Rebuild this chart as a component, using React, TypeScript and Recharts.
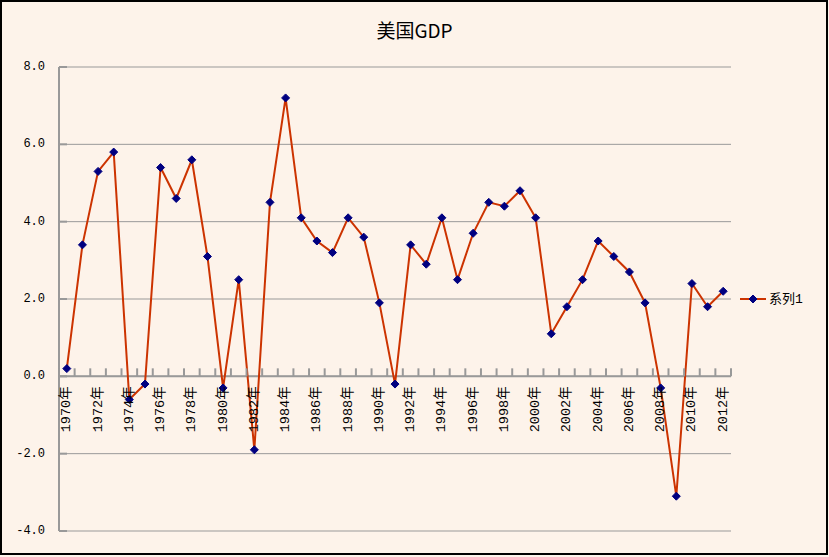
import {
  LineChart, Line, XAxis, YAxis, CartesianGrid, ReferenceLine, Legend,
} from 'recharts';

const years = [
  '1970年', '1971年', '1972年', '1973年', '1974年', '1975年', '1976年', '1977年', '1978年', '1979年',
  '1980年', '1981年', '1982年', '1983年', '1984年', '1985年', '1986年', '1987年', '1988年', '1989年',
  '1990年', '1991年', '1992年', '1993年', '1994年', '1995年', '1996年', '1997年', '1998年', '1999年',
  '2000年', '2001年', '2002年', '2003年', '2004年', '2005年', '2006年', '2007年', '2008年', '2009年',
  '2010年', '2011年', '2012年',
];

const gdp = [
  0.2, 3.4, 5.3, 5.8, -0.6, -0.2, 5.4, 4.6, 5.6, 3.1,
  -0.3, 2.5, -1.9, 4.5, 7.2, 4.1, 3.5, 3.2, 4.1, 3.6,
  1.9, -0.2, 3.4, 2.9, 4.1, 2.5, 3.7, 4.5, 4.4, 4.8,
  4.1, 1.1, 1.8, 2.5, 3.5, 3.1, 2.7, 1.9, -0.3, -3.1,
  2.4, 1.8, 2.2,
];

const yTicks = [-4, -2, 0, 2, 4, 6, 8];

const data = years.map((year, i) => ({ year, gdp: gdp[i] }));

// layout
const W = 829;
const H = 557;
const PLOT_LEFT = 59;
const PLOT_RIGHT = 731;
const PLOT_TOP = 67;
const PLOT_BOTTOM = 531;
const PLOT_W = PLOT_RIGHT - PLOT_LEFT;
const PLOT_H = PLOT_BOTTOM - PLOT_TOP;
const Y_MIN = -4;
const Y_MAX = 8;
const ZERO_Y = PLOT_TOP + (PLOT_H * Y_MAX) / (Y_MAX - Y_MIN);
const BAND = PLOT_W / years.length;

const AXIS = '#999999';
const LINE = '#CC3300';
const MARK = '#000080';
const BG = '#FDF3EA';
const FONT = '"Liberation Mono", "Noto Sans CJK SC", monospace';

const Diamond = ({ cx, cy, size = 4 }: any) => {
  if (cx == null || cy == null) return null;
  return (
    <polygon
      points={`${cx},${cy - size} ${cx + size},${cy} ${cx},${cy + size} ${cx - size},${cy}`}
      fill={MARK}
      stroke={MARK}
      strokeWidth={1}
    />
  );
};

const XTick = ({ x, index, payload }: any) => {
  const left = x - BAND / 2;
  const ly = ZERO_Y + 10;
  return (
    <g>
      <line x1={left} x2={left} y1={ZERO_Y} y2={ZERO_Y - 8} stroke={AXIS} strokeWidth={2} />
      {index === years.length - 1 && (
        <line x1={x + BAND / 2} x2={x + BAND / 2} y1={ZERO_Y} y2={ZERO_Y - 8} stroke={AXIS} strokeWidth={2} />
      )}
      {index % 2 === 0 && (
        <text
          x={x}
          y={ly}
          transform={`rotate(-90 ${x} ${ly})`}
          textAnchor="end"
          dominantBaseline="central"
          fontSize={13.5}
          fontFamily={FONT}
          fill="#000"
        >
          {payload.value}
        </text>
      )}
    </g>
  );
};

const YTick = ({ y, payload }: any) => (
  <g>
    <line x1={PLOT_LEFT} x2={PLOT_LEFT + 8} y1={y} y2={y} stroke={AXIS} strokeWidth={2} />
    <text
      x={PLOT_LEFT - 14}
      y={y}
      textAnchor="end"
      dominantBaseline="central"
      fontSize={12}
      fontFamily={FONT}
      fill="#000"
    >
      {Number(payload.value).toFixed(1)}
    </text>
  </g>
);

const LegendBox = () => (
  <svg width={85} height={20}>
    <line x1={2} x2={28} y1={10} y2={10} stroke={LINE} strokeWidth={2} />
    <Diamond cx={15} cy={10} />
    <text x={31} y={10} dominantBaseline="central" fontSize={13} fontFamily={FONT} fill="#000">
      系列1
    </text>
  </svg>
);

export default function App() {
  return (
    <div style={{ position: 'fixed', left: 0, top: 0, width: W, height: H, background: BG }}>
      <div
        style={{
          position: 'absolute', left: 0, top: 19, width: W, textAlign: 'center',
          fontFamily: '"Noto Sans CJK SC", sans-serif', fontSize: 19, lineHeight: '22px', color: '#000',
        }}
      >
        美国GDP
      </div>
      <div style={{ position: 'absolute', left: 0, top: 0 }}>
        <LineChart
          width={W}
          height={H}
          data={data}
          margin={{ top: PLOT_TOP, right: W - PLOT_RIGHT, bottom: H - PLOT_BOTTOM - 20, left: PLOT_LEFT - 50 }}
        >
          <CartesianGrid vertical={false} stroke={AXIS} />
          <XAxis
            dataKey="year"
            height={20}
            interval={0}
            padding={{ left: BAND / 2, right: BAND / 2 }}
            axisLine={false}
            tickLine={false}
            tick={<XTick />}
          />
          <YAxis
            width={50}
            domain={[Y_MIN, Y_MAX]}
            ticks={yTicks}
            interval={0}
            axisLine={{ stroke: AXIS, strokeWidth: 2 }}
            tickLine={false}
            tick={<YTick />}
          />
          <ReferenceLine y={0} stroke={AXIS} strokeWidth={2} />
          <Legend
            layout="horizontal"
            verticalAlign="middle"
            align="center"
            wrapperStyle={{ left: 738, top: 289, width: 85 }}
            content={<LegendBox />}
          />
          <Line
            type="linear"
            dataKey="gdp"
            name="系列1"
            stroke={LINE}
            strokeWidth={2}
            dot={<Diamond />}
            activeDot={false}
            isAnimationActive={false}
          />
        </LineChart>
      </div>
      <div
        style={{
          position: 'absolute', left: 0, top: 0, width: W - 1, height: H - 2,
          border: '2px solid #000', boxSizing: 'border-box', pointerEvents: 'none',
        }}
      />
    </div>
  );
}
